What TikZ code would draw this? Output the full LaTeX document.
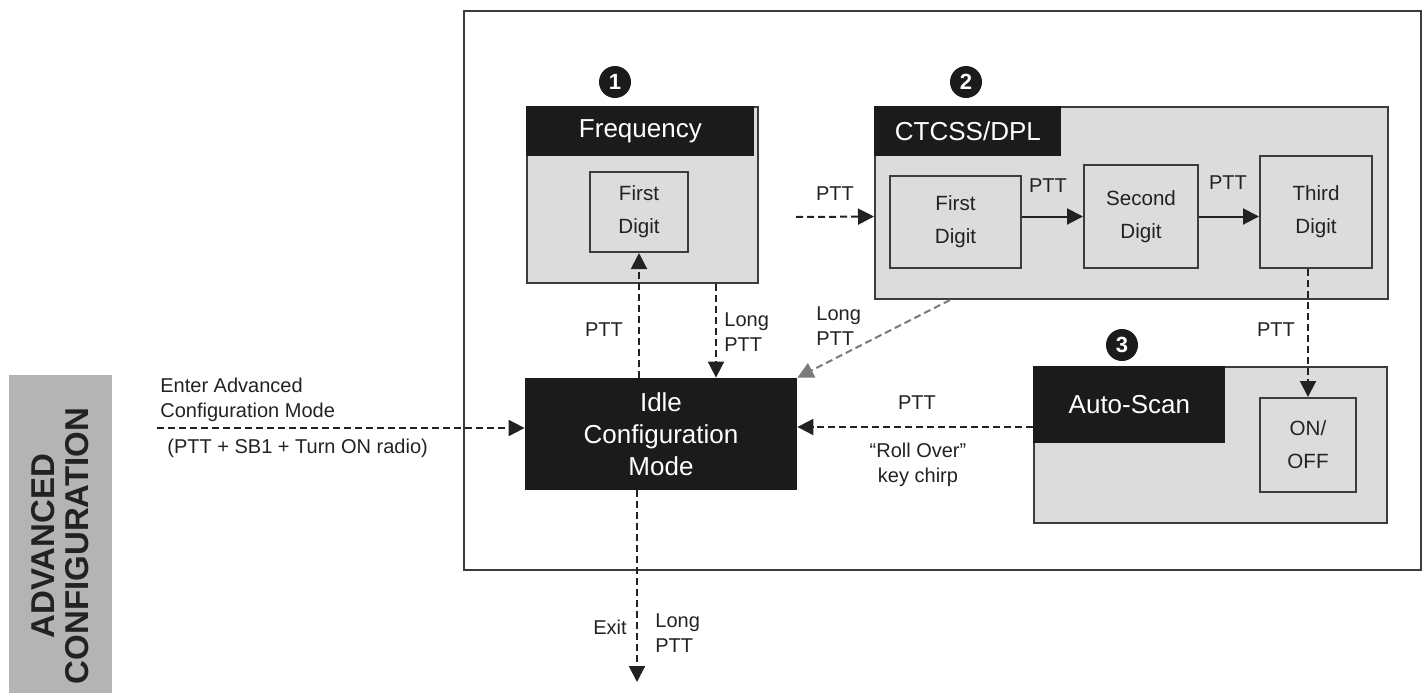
\documentclass[tikz,border=0pt]{standalone}
\usepackage{fontspec}
\setmainfont{Liberation Sans}
\usepackage{xcolor}
\usetikzlibrary{arrows.meta,positioning,calc}
\definecolor{boxgray}{HTML}{DCDCDC}
\definecolor{headblack}{HTML}{1B1B1B}
\definecolor{linegray}{HTML}{3C3C3C}
\definecolor{bargray}{HTML}{B4B4B4}
\definecolor{txt}{HTML}{222222}

\begin{document}
\begin{tikzpicture}[x=0.5pt,y=-0.5pt,
  panel/.style={draw=linegray, line width=1pt, fill=boxgray, inner sep=0pt},
  head/.style={fill=headblack, text=white, inner sep=0pt, font=\fontsize{13}{16}\selectfont},
  digit/.style={draw=linegray, line width=1pt, fill=boxgray, align=center, inner sep=0pt, text=txt, font=\fontsize{10.3}{16.5}\selectfont},
  lbl/.style={inner sep=0pt, text=txt, align=left, font=\fontsize{10}{12.5}\selectfont},
  num/.style={circle, fill=headblack, text=white, minimum size=16pt, inner sep=0pt, font=\bfseries\fontsize{11}{11}\selectfont},
  dline/.style={draw=txt, line width=1pt, dash pattern=on 3.5pt off 2pt},
  tip/.style={-{Triangle[length=8pt,width=8pt]}}
]
\useasboundingbox (0,0) rectangle (1426,692);
\clip (0,0) rectangle (1426,692);

% side bar
\fill[bargray] (9,375) rectangle (112,720);
\node[rotate=90, align=center, inner sep=0pt, text=txt, font=\bfseries\fontsize{16.5}{17}\selectfont] (side) at (60,546) {ADVANCED\\CONFIGURATION};

% nodes
\node[draw=linegray, line width=1pt, minimum width=478.5pt, minimum height=279.5pt] (frame) at (942.5,290.5) {};

\node[panel, minimum width=115.5pt, minimum height=88pt] (freq) at (642.5,195) {};
\node[head, anchor=north west, minimum width=114pt, minimum height=25pt] (freqhead) at (freq.north west) {Frequency};
\node[digit, minimum width=49pt, minimum height=40pt] (freq1) at (639,212) {First\\Digit};

\node[panel, minimum width=256.5pt, minimum height=96pt] (ctcss) at (1131.5,203) {};
\node[head, anchor=north west, minimum width=93.5pt, minimum height=25pt] (ctcsshead) at (ctcss.north west) {CTCSS/DPL};
\node[digit, minimum width=65.5pt, minimum height=46pt] (ct1) at (955.5,222) {First\\Digit};
\node[digit, minimum width=57pt, minimum height=51.5pt] (ct2) at (1141,216.5) {Second\\Digit};
\node[digit, minimum width=56pt, minimum height=56pt] (ct3) at (1316,212) {Third\\Digit};

\node[panel, minimum width=176.5pt, minimum height=78pt] (auto) at (1210.5,445) {};
\node[head, anchor=north west, minimum width=96pt, minimum height=38.5pt] (autohead) at (auto.north west) {Auto-Scan};
\node[digit, minimum width=48pt, minimum height=47pt] (onoff) at (1308,445) {ON/\\OFF};

\node[fill=headblack, text=white, align=center, inner sep=0pt, minimum width=136pt, minimum height=56pt, font=\fontsize{13}{16}\selectfont] (idle) at (661,434) {Idle\\Configuration\\Mode};

\node[num] (n1) at (615,82) {1};
\node[num] (n2) at (966,82) {2};
\node[num] (n3) at (1122,345) {3};

% free ends
\coordinate (enter) at (157,428);
\coordinate (exit) at (637,682);
\coordinate (pttin) at (796,217);
\coordinate (longdn) at ([xshift=36.75pt]freq.south);
\coordinate (diag) at ([xshift=-90.75pt]ctcss.south);
\coordinate (rollin) at ([yshift=3.5pt]idle.east);
\coordinate (enterin) at ([yshift=3pt]idle.west);

% connectors
\draw[dline, tip] (enter) -- (enterin);
\draw[dline, tip] (freq1.south |- idle.north) -- (freq1.south);
\draw[dline, tip] (longdn) -- (longdn |- idle.north);
\draw[dline, tip, draw=txt!60] (diag) -- (idle.north east);
\draw[dline, tip] (pttin) -- (ctcss.west |- ct2.west);
\draw[line width=1pt, draw=txt, tip] (ct1.east |- ct2.west) -- (ct2.west);
\draw[line width=1pt, draw=txt, tip] (ct2.east) -- (ct3.west |- ct2.east);
\draw[dline, tip] (onoff.north |- ct3.south) -- (onoff.north);
\draw[dline, tip] (autohead.west |- rollin) -- (rollin);
\draw[dline, tip] (exit |- idle.south) -- (exit);

% labels
\node[lbl, anchor=west] (entertxt) at (160,400) {Enter Advanced\\Configuration Mode};
\node[lbl, anchor=west] (enterkeys) at (167,448) {(PTT + SB1 + Turn ON radio)};
\node[lbl] (pttup) at (604,330) {PTT};
\node[lbl, anchor=west] (longdnlbl) at (724,332) {Long\\PTT};
\node[lbl, anchor=west] (diaglbl) at (816,326) {Long\\PTT};
\node[lbl] (pttinlbl) at (835,194) {PTT};
\node[lbl] (ptt12) at (1048,186) {PTT};
\node[lbl] (ptt23) at (1228,183) {PTT};
\node[lbl] (pttdn) at (1276,330) {PTT};
\node[lbl] (pttroll) at (917,403) {PTT};
\node[lbl, align=center] (rolllbl) at (918,465) {“Roll Over”\\key chirp};
\node[lbl] (exitlbl) at (610,627) {Exit};
\node[lbl, anchor=west] (exitlong) at (655,633) {Long\\PTT};
\end{tikzpicture}
\end{document}
